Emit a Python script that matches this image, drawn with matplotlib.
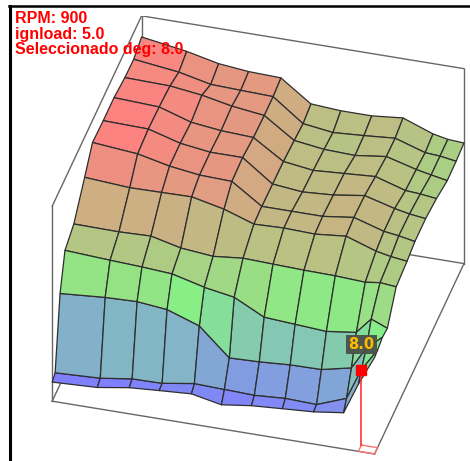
#!/usr/bin/env python3
# -*- coding: utf-8 -*-
import numpy as np
import matplotlib
matplotlib.use('Agg')
import matplotlib.pyplot as plt
from matplotlib.colors import LinearSegmentedColormap
from matplotlib.lines import Line2D
from mpl_toolkits.mplot3d import proj3d

# bin positions along both axes (axis 0..1)
rpm_pos = [0, .14, .239, .332, .432, .525, .618, .714, .811, .904, .95, 1]
load_pos = [1, .912, .813, .692, .571, .451, .363, .242, .143, .088, .033, 0]

# table heights, one row per load bin (back to front)
row_00 = [173, 166, 159, 156, 155, 134, 132, 132, 135, 124, 121, 120]
row_01 = [167.5, 162, 155, 154, 153, 131, 127, 129, 131.5, 122, 121, 118.5]
row_02 = [168, 167, 163, 157, 153, 133, 129, 128, 132, 124, 121, 118]
row_03 = [171, 169, 159, 155.5, 154, 135, 131, 133, 135, 126, 125, 123]
row_04 = [171, 170, 161, 157, 157, 135.5, 132.5, 134.5, 139, 131, 128, 126]
row_05 = [172, 168, 161, 157, 156, 136, 136, 136, 140, 131, 129, 126]
row_06 = [154, 151, 151.5, 152, 145, 135, 136, 135, 138, 128, 125, 123]
row_07 = [130.5, 130, 131, 124, 121, 124, 123, 122, 121.5, 120, 122, 120.5]
row_08 = [123, 120.5, 119, 117, 109, 104, 89, 87, 85, 89, 104.5, 98]
row_09 = [90.5, 94, 95, 92, 81, 54, 55, 57, 57.5, 64, 86, 99.5]
row_10 = [22, 24, 28.5, 29, 34, 33, 32, 34, 33, 44, 75, 97]
row_11 = [19, 21, 26, 28, 30, 24, 28, 30, 32, 36, 67, 96]
table = [row_00, row_01, row_02, row_03, row_04, row_05,
         row_06, row_07, row_08, row_09, row_10, row_11]

z_top = 194
info_lines = ['RPM: 900', 'ignload: 5.0', 'Seleccionado deg: 8.0']
sel_label = '8.0'
sel_col, sel_row = 10, 10

W, H = 470, 461
fig = plt.figure(figsize=(W / 100, H / 100), dpi=100)

S = 450
ax = fig.add_axes([(252 - S / 2) / W, (H - 241 - S / 2) / H, S / W, S / H],
                  projection='3d', computed_zorder=False)
ax.set_proj_type('ortho')
ax.view_init(elev=36.2, azim=-74.5)
ax.set_box_aspect((1, 1, 0.722), zoom=1.146)
ax.set_xlim(0, 1)
ax.set_ylim(0, 1)
ax.set_zlim(0, z_top)
ax.set_axis_off()
ax.patch.set_alpha(0)

# cage: floor and the back walls
box = '#666666'
for xs, ys, zs in [([0, 1], [0, 0], [0, 0]), ([1, 1], [0, 1], [0, 0]),
                   ([1, 0], [1, 1], [0, 0]), ([0, 0], [1, 0], [0, 0]),
                   ([0, 0], [0, 0], [0, z_top]), ([1, 1], [1, 1], [0, z_top]),
                   ([0, 0], [1, 1], [0, z_top]), ([0, 1], [1, 1], [z_top, z_top]),
                   ([0, 0], [0, 1], [z_top, z_top])]:
    ax.plot(xs, ys, zs, color=box, lw=1, zorder=1)

cmap = LinearSegmentedColormap.from_list('deg', ['#8080ff', '#86f086', '#ff8080'])
X, Y = np.meshgrid(rpm_pos, load_pos)
ax.plot_surface(X, Y, np.array(table), rstride=1, cstride=1, cmap=cmap,
                vmin=25, vmax=172, shade=False, edgecolor='#2e2e2e',
                linewidth=0.9, antialiased=True, zorder=2)

# selected cell
sx, sy = rpm_pos[sel_col], load_pos[sel_row]
sz = table[sel_row][sel_col]
ex, ey = rpm_pos[sel_col + 1], load_pos[sel_row + 1]
ax.plot([sx, ex, ex, sx, sx], [sy, sy, ey, ey, sy], [0] * 5, color='#ff7070', lw=1, zorder=3)
ax.plot([sx, sx], [sy, sy], [0, sz], color='#ff2020', lw=1.1, zorder=3)
ax.plot([sx], [sy], [sz], 's', color='#ff0000', ms=7.2, zorder=4)
# label goes on the 2D side of the axes, 25 px above the marker
px, py, _ = proj3d.proj_transform(sx, sy, sz, ax.get_proj())
ax.annotate(sel_label, (px, py), xytext=(0, 18), textcoords='offset points',
            color='#ffbb00', fontsize=10.5, fontweight='bold', ha='center', va='center',
            family='DejaVu Sans', zorder=5,
            bbox=dict(boxstyle='square,pad=0.15', fc='#4a5048', ec='none', alpha=0.95))

# window border
fig.add_artist(Line2D([9.5 / W, 9.5 / W], [0, 1 - 6 / H], color='black', lw=2.2))
fig.add_artist(Line2D([9 / W, 1], [1 - 6 / H, 1 - 6 / H], color='black', lw=1.8))

for i, line in enumerate(info_lines):
    fig.text(15 / W, 1 - (23 + 15.6 * i) / H, line, color='#ff0000', fontsize=11.5,
             fontweight='bold', family='Liberation Sans', ha='left', va='baseline')

fig.savefig('out.png', dpi=100)
